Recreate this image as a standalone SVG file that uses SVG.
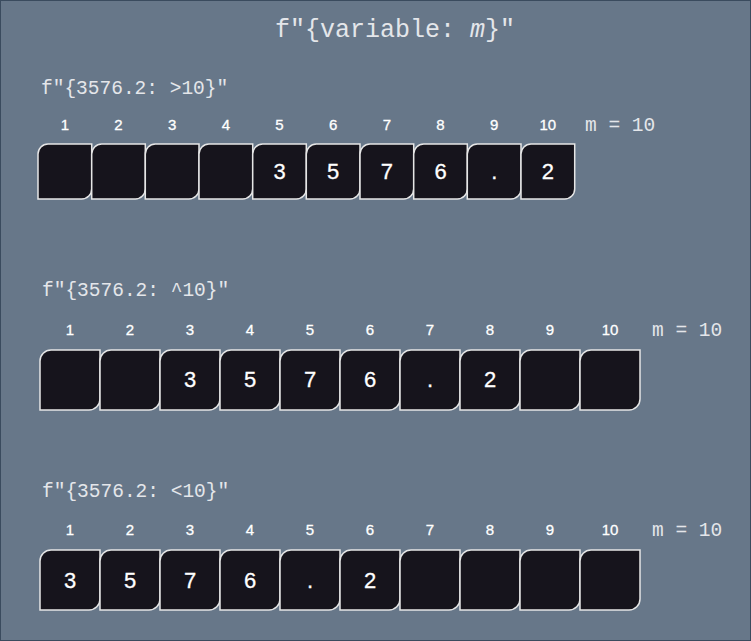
<svg xmlns="http://www.w3.org/2000/svg" width="751" height="641" viewBox="0 0 751 641">
<defs>
<style>
.bg{fill:#677789;stroke:#3a4b5e;stroke-width:2}
.box{fill:#16141c;stroke:#e6e6e6;stroke-width:1.5}
.mono{font-family:"Liberation Mono","DejaVu Sans Mono",monospace;fill:#e4e6ea}
.idx{font-family:"Liberation Sans",Arial,sans-serif;font-size:15px;fill:#ffffff;text-anchor:middle;stroke:#ffffff;stroke-width:0.3}
.dig{font-family:"Liberation Sans",Arial,sans-serif;font-size:22px;fill:#ffffff;text-anchor:middle;stroke:#ffffff;stroke-width:0.3}
</style>
</defs>
<rect class="bg" x="0" y="0" width="751" height="641"/>
<text class="mono" x="395" y="36.5" font-size="25" text-anchor="middle">f"{variable: <tspan font-style="italic">m</tspan>}"</text>

<g id="row1">
<text class="mono" x="41" y="94" font-size="19.5">f"{3576.2: &gt;10}"</text>
<text class="mono" x="585" y="131" font-size="19.5">m = 10</text>
<g class="idx">
<text x="64.8" y="129.5">1</text><text x="118.5" y="129.5">2</text><text x="172.2" y="129.5">3</text><text x="225.8" y="129.5">4</text><text x="279.5" y="129.5">5</text><text x="333.2" y="129.5">6</text><text x="386.8" y="129.5">7</text><text x="440.5" y="129.5">8</text><text x="494.2" y="129.5">9</text><text x="547.8" y="129.5">10</text>
</g>
<g id="r1c1"><path class="box" d="M38,154 A10,10 0 0 1 48,144 H91.7 V189 A10,10 0 0 1 81.7,199 H38 Z"/></g>
<g id="r1c2"><path class="box" d="M91.7,154 A10,10 0 0 1 101.7,144 H145.3 V189 A10,10 0 0 1 135.3,199 H91.7 Z"/></g>
<g id="r1c3"><path class="box" d="M145.3,154 A10,10 0 0 1 155.3,144 H199 V189 A10,10 0 0 1 189,199 H145.3 Z"/></g>
<g id="r1c4"><path class="box" d="M199,154 A10,10 0 0 1 209,144 H252.7 V189 A10,10 0 0 1 242.7,199 H199 Z"/></g>
<g id="r1c5"><path class="box" d="M252.7,154 A10,10 0 0 1 262.7,144 H306.3 V189 A10,10 0 0 1 296.3,199 H252.7 Z"/><text class="dig" x="279.5" y="179">3</text></g>
<g id="r1c6"><path class="box" d="M306.3,154 A10,10 0 0 1 316.3,144 H360 V189 A10,10 0 0 1 350,199 H306.3 Z"/><text class="dig" x="333.2" y="179">5</text></g>
<g id="r1c7"><path class="box" d="M360,154 A10,10 0 0 1 370,144 H413.7 V189 A10,10 0 0 1 403.7,199 H360 Z"/><text class="dig" x="386.8" y="179">7</text></g>
<g id="r1c8"><path class="box" d="M413.7,154 A10,10 0 0 1 423.7,144 H467.3 V189 A10,10 0 0 1 457.3,199 H413.7 Z"/><text class="dig" x="440.5" y="179">6</text></g>
<g id="r1c9"><path class="box" d="M467.3,154 A10,10 0 0 1 477.3,144 H521 V189 A10,10 0 0 1 511,199 H467.3 Z"/><text class="dig" x="494.2" y="179">.</text></g>
<g id="r1c10"><path class="box" d="M521,154 A10,10 0 0 1 531,144 H574.7 V189 A10,10 0 0 1 564.7,199 H521 Z"/><text class="dig" x="547.8" y="179">2</text></g>
</g>

<g id="row2">
<text class="mono" x="42" y="296" font-size="19.5">f"{3576.2: ^10}"</text>
<text class="mono" x="652" y="336" font-size="19.5">m = 10</text>
<g class="idx">
<text x="70" y="335">1</text><text x="130" y="335">2</text><text x="190" y="335">3</text><text x="250" y="335">4</text><text x="310" y="335">5</text><text x="370" y="335">6</text><text x="430" y="335">7</text><text x="490" y="335">8</text><text x="550" y="335">9</text><text x="610" y="335">10</text>
</g>
<g id="r2c1"><path class="box" d="M40,361 A11,11 0 0 1 51,350 H100 V399 A11,11 0 0 1 89,410 H40 Z"/></g>
<g id="r2c2"><path class="box" d="M100,361 A11,11 0 0 1 111,350 H160 V399 A11,11 0 0 1 149,410 H100 Z"/></g>
<g id="r2c3"><path class="box" d="M160,361 A11,11 0 0 1 171,350 H220 V399 A11,11 0 0 1 209,410 H160 Z"/><text class="dig" x="190" y="387.3">3</text></g>
<g id="r2c4"><path class="box" d="M220,361 A11,11 0 0 1 231,350 H280 V399 A11,11 0 0 1 269,410 H220 Z"/><text class="dig" x="250" y="387.3">5</text></g>
<g id="r2c5"><path class="box" d="M280,361 A11,11 0 0 1 291,350 H340 V399 A11,11 0 0 1 329,410 H280 Z"/><text class="dig" x="310" y="387.3">7</text></g>
<g id="r2c6"><path class="box" d="M340,361 A11,11 0 0 1 351,350 H400 V399 A11,11 0 0 1 389,410 H340 Z"/><text class="dig" x="370" y="387.3">6</text></g>
<g id="r2c7"><path class="box" d="M400,361 A11,11 0 0 1 411,350 H460 V399 A11,11 0 0 1 449,410 H400 Z"/><text class="dig" x="430" y="387.3">.</text></g>
<g id="r2c8"><path class="box" d="M460,361 A11,11 0 0 1 471,350 H520 V399 A11,11 0 0 1 509,410 H460 Z"/><text class="dig" x="490" y="387.3">2</text></g>
<g id="r2c9"><path class="box" d="M520,361 A11,11 0 0 1 531,350 H580 V399 A11,11 0 0 1 569,410 H520 Z"/></g>
<g id="r2c10"><path class="box" d="M580,361 A11,11 0 0 1 591,350 H640 V399 A11,11 0 0 1 629,410 H580 Z"/></g>
</g>

<g id="row3">
<text class="mono" x="42" y="497" font-size="19.5">f"{3576.2: &lt;10}"</text>
<text class="mono" x="652" y="536" font-size="19.5">m = 10</text>
<g class="idx">
<text x="70" y="535">1</text><text x="130" y="535">2</text><text x="190" y="535">3</text><text x="250" y="535">4</text><text x="310" y="535">5</text><text x="370" y="535">6</text><text x="430" y="535">7</text><text x="490" y="535">8</text><text x="550" y="535">9</text><text x="610" y="535">10</text>
</g>
<g id="r3c1"><path class="box" d="M40,561 A11,11 0 0 1 51,550 H100 V599 A11,11 0 0 1 89,610 H40 Z"/><text class="dig" x="70" y="587.5">3</text></g>
<g id="r3c2"><path class="box" d="M100,561 A11,11 0 0 1 111,550 H160 V599 A11,11 0 0 1 149,610 H100 Z"/><text class="dig" x="130" y="587.5">5</text></g>
<g id="r3c3"><path class="box" d="M160,561 A11,11 0 0 1 171,550 H220 V599 A11,11 0 0 1 209,610 H160 Z"/><text class="dig" x="190" y="587.5">7</text></g>
<g id="r3c4"><path class="box" d="M220,561 A11,11 0 0 1 231,550 H280 V599 A11,11 0 0 1 269,610 H220 Z"/><text class="dig" x="250" y="587.5">6</text></g>
<g id="r3c5"><path class="box" d="M280,561 A11,11 0 0 1 291,550 H340 V599 A11,11 0 0 1 329,610 H280 Z"/><text class="dig" x="310" y="587.5">.</text></g>
<g id="r3c6"><path class="box" d="M340,561 A11,11 0 0 1 351,550 H400 V599 A11,11 0 0 1 389,610 H340 Z"/><text class="dig" x="370" y="587.5">2</text></g>
<g id="r3c7"><path class="box" d="M400,561 A11,11 0 0 1 411,550 H460 V599 A11,11 0 0 1 449,610 H400 Z"/></g>
<g id="r3c8"><path class="box" d="M460,561 A11,11 0 0 1 471,550 H520 V599 A11,11 0 0 1 509,610 H460 Z"/></g>
<g id="r3c9"><path class="box" d="M520,561 A11,11 0 0 1 531,550 H580 V599 A11,11 0 0 1 569,610 H520 Z"/></g>
<g id="r3c10"><path class="box" d="M580,561 A11,11 0 0 1 591,550 H640 V599 A11,11 0 0 1 629,610 H580 Z"/></g>
</g>
</svg>
